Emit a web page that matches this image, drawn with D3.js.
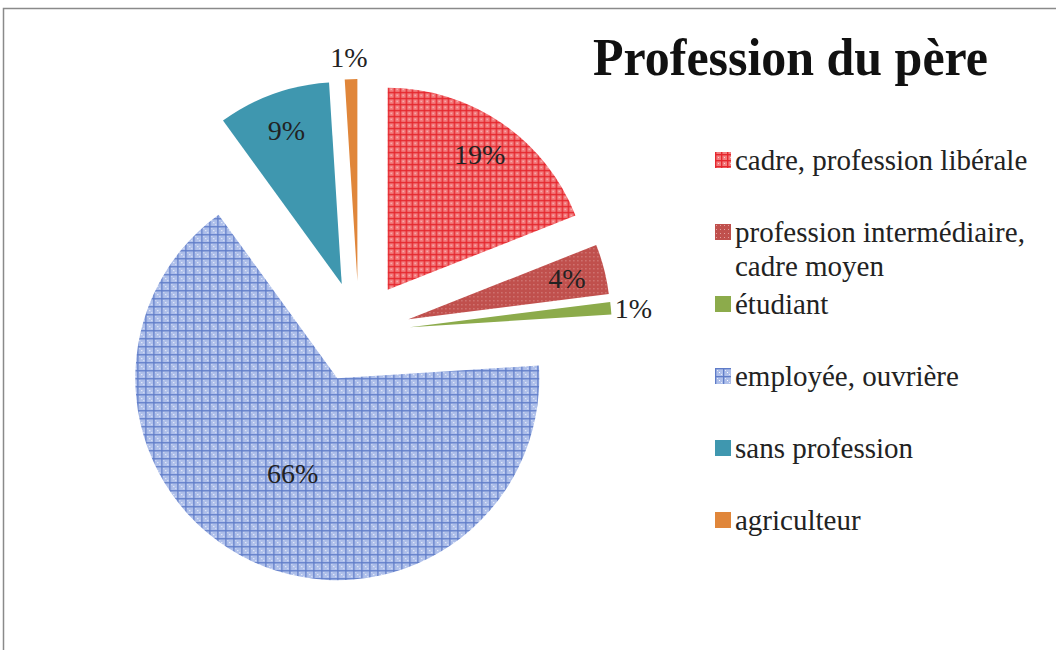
<!DOCTYPE html>
<html>
<head>
<meta charset="utf-8">
<script src="https://cdn.jsdelivr.net/npm/d3@7"></script>
<style>
  body { margin: 0; background: #fff; }
  svg { display: block; }
  text { font-family: "Liberation Serif", "DejaVu Serif", serif; fill: #222; }
</style>
</head>
<body>
<div id="chart"></div>
<script>
const categories = [
  'cadre, profession libérale',
  'profession intermédiaire, cadre moyen',
  'étudiant',
  'employée, ouvrière',
  'sans profession',
  'agriculteur',
];
const legendLines = [
  ['cadre, profession libérale'],
  ['profession intermédiaire,', 'cadre moyen'],
  ['étudiant'],
  ['employée, ouvrière'],
  ['sans profession'],
  ['agriculteur'],
];
const values = [19, 4, 1, 66, 9, 1];
const title = 'Profession du père';

const width = 1056;
const height = 650;
const radius = 202;
const explode = 51;
const center = { x: 359, y: 332 };

const svg = d3.select('#chart')
  .append('svg')
  .attr('width', width)
  .attr('height', height);

// hatch patterns like excel fills
const defs = svg.append('defs');

const redPat = defs.append('pattern')
  .attr('id', 'pat-red')
  .attr('patternUnits', 'userSpaceOnUse')
  .attr('width', 6).attr('height', 6);
redPat.append('rect').attr('width', 6).attr('height', 6).attr('fill', '#f37c7e');
redPat.append('rect').attr('width', 6).attr('height', 1.4).attr('fill', '#e5272d');
redPat.append('rect').attr('width', 1.4).attr('height', 6).attr('fill', '#e5272d');
redPat.append('rect').attr('x', 3).attr('y', 3).attr('width', 1).attr('height', 1).attr('fill', '#fbd0d0');

const brownPat = defs.append('pattern')
  .attr('id', 'pat-brown')
  .attr('patternUnits', 'userSpaceOnUse')
  .attr('width', 4).attr('height', 4);
brownPat.append('rect').attr('width', 4).attr('height', 4).attr('fill', '#c0504d');
brownPat.append('rect').attr('x', 1).attr('y', 1).attr('width', 1).attr('height', 1).attr('fill', '#e2a19f');

const bluePat = defs.append('pattern')
  .attr('id', 'pat-blue')
  .attr('patternUnits', 'userSpaceOnUse')
  .attr('width', 8).attr('height', 8);
bluePat.append('rect').attr('width', 8).attr('height', 8).attr('fill', '#aebfea');
bluePat.append('rect').attr('width', 8).attr('height', 1.3).attr('fill', '#5f7cc8');
bluePat.append('rect').attr('width', 1.3).attr('height', 8).attr('fill', '#5f7cc8');
bluePat.append('rect').attr('x', 4).attr('y', 4).attr('width', 1).attr('height', 1).attr('fill', '#ffffff');
bluePat.append('rect').attr('x', 2).attr('y', 2).attr('width', 1).attr('height', 1).attr('fill', '#e6ecfa');
bluePat.append('rect').attr('x', 6).attr('y', 6).attr('width', 1).attr('height', 1).attr('fill', '#e6ecfa');

const colors = d3.scaleOrdinal()
  .domain(categories)
  .range(['url(#pat-red)', 'url(#pat-brown)', '#8cab4b', 'url(#pat-blue)', '#3f97af', '#e0863a']);

// frame (only top and left edges visible)
svg.append('path')
  .attr('d', `M3.5,${height} V8.5 H${width}`)
  .attr('fill', 'none')
  .attr('stroke', '#8a8a8a')
  .attr('stroke-width', 1.5);

svg.append('text')
  .attr('x', 593)
  .attr('y', 75)
  .attr('font-size', 52)
  .attr('font-weight', 'bold')
  .attr('textLength', 395)
  .attr('lengthAdjust', 'spacingAndGlyphs')
  .style('fill', '#111')
  .text(title);

const pie = d3.pie().sort(null).value((d) => d.value);
const dataReady = pie(categories.map((c, i) => ({ key: c, value: values[i] })));
const arc = d3.arc().innerRadius(0).outerRadius(radius);
const mid = (d) => (d.startAngle + d.endAngle) / 2;
const offset = (d, r) => [Math.sin(mid(d)) * r, -Math.cos(mid(d)) * r];

const pieG = svg.append('g')
  .attr('transform', `translate(${center.x},${center.y})`);

const slices = pieG.selectAll('g.slice')
  .data(dataReady)
  .enter()
  .append('g')
  .attr('class', 'slice')
  .attr('transform', (d) => `translate(${offset(d, explode)})`);

slices.append('path')
  .attr('d', arc)
  .attr('fill', (d) => colors(d.data.key));

// data labels: small slices get their label outside
slices.append('text')
  .attr('font-size', 28)
  .each(function (d) {
    const t = d3.select(this);
    const share = d.data.value / d3.sum(values);
    const s = Math.sin(mid(d));
    const c = Math.cos(mid(d));
    if (share < 0.02) {
      const [x, y] = offset(d, radius + 4);
      if (Math.abs(s) > 0.5) {
        t.attr('x', x).attr('y', y).attr('dy', '0.35em')
          .attr('text-anchor', s > 0 ? 'start' : 'end');
      } else {
        t.attr('x', x - 2).attr('y', y).attr('dy', c > 0 ? '-0.28em' : '0.9em')
          .attr('text-anchor', 'middle');
      }
    } else {
      const [x, y] = offset(d, radius * (share > 0.5 ? 0.52 : 0.81));
      t.attr('x', x).attr('y', y).attr('dy', '0.35em').attr('text-anchor', 'middle');
    }
  })
  .text((d) => `${d.data.value}%`);

// legend
const legendY = d3.scaleLinear().domain([0, categories.length - 1]).range([160, 520]);
const legend = svg.append('g').attr('transform', 'translate(715,0)');

const items = legend.selectAll('g.legend-line')
  .data(categories)
  .enter()
  .append('g')
  .attr('class', 'legend-line')
  .attr('transform', (d, i) => `translate(0,${legendY(i)})`);

items.append('rect')
  .attr('x', 0)
  .attr('y', -8)
  .attr('width', 16)
  .attr('height', 16)
  .attr('fill', (d) => colors(d));

items.append('text')
  .attr('font-size', 29)
  .selectAll('tspan')
  .data((d, i) => legendLines[i])
  .enter()
  .append('tspan')
  .attr('x', 20)
  .attr('y', (d, i) => i * 34)
  .attr('dy', '0.35em')
  .text((d) => d);
</script>
</body>
</html>
